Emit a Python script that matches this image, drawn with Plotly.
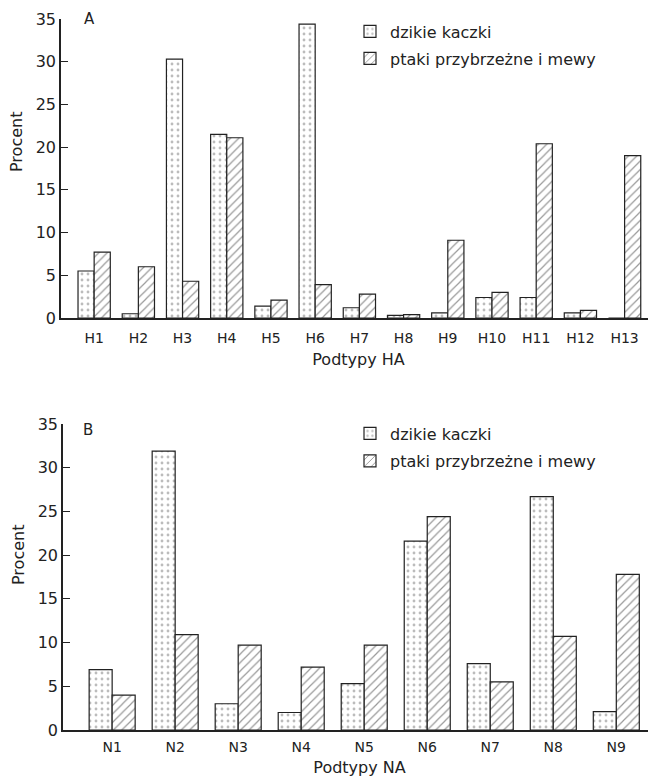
import plotly.graph_objects as go

ha_types = ["H1", "H2", "H3", "H4", "H5", "H6", "H7", "H8", "H9", "H10", "H11", "H12", "H13"]
ha_ducks = [5.5, 0.5, 30.3, 21.5, 1.4, 34.4, 1.2, 0.3, 0.6, 2.4, 2.4, 0.6, 0.0]
ha_shore = [7.7, 6.0, 4.3, 21.1, 2.1, 3.9, 2.8, 0.4, 9.1, 3.0, 20.4, 0.9, 19.0]

na_types = ["N1", "N2", "N3", "N4", "N5", "N6", "N7", "N8", "N9"]
na_ducks = [6.9, 31.9, 3.0, 2.0, 5.3, 21.6, 7.6, 26.7, 2.1]
na_shore = [4.0, 10.9, 9.7, 7.2, 9.7, 24.4, 5.5, 10.7, 17.8]

name_ducks = "dzikie kaczki"
name_shore = "ptaki przybrzeżne i mewy"
y_title = "Procent"
y_ticks = [0, 5, 10, 15, 20, 25, 30, 35]

INK = "#222222"
FONT = "DejaVu Sans"

dot_pattern = dict(shape=".", size=6, solidity=0.18, fgcolor="#7a7a7a", bgcolor="white", fillmode="overlay")
hatch_pattern = dict(shape="/", size=6, solidity=0.2, fgcolor="#333333", bgcolor="white", fillmode="overlay")

fig = go.Figure()

fig.add_trace(go.Bar(x=ha_types, y=ha_ducks, name=name_ducks, xaxis="x", yaxis="y",
                     marker=dict(color="white", pattern=dot_pattern, line=dict(color=INK, width=1.2)),
                     legend="legend", showlegend=True))
fig.add_trace(go.Bar(x=ha_types, y=ha_shore, name=name_shore, xaxis="x", yaxis="y",
                     marker=dict(color="white", pattern=hatch_pattern, line=dict(color=INK, width=1.2)),
                     legend="legend2", showlegend=True))
fig.add_trace(go.Bar(x=na_types, y=na_ducks, name=name_ducks, xaxis="x2", yaxis="y2",
                     marker=dict(color="white", pattern=dot_pattern, line=dict(color=INK, width=1.2)),
                     legend="legend3", showlegend=True))
fig.add_trace(go.Bar(x=na_types, y=na_shore, name=name_shore, xaxis="x2", yaxis="y2",
                     marker=dict(color="white", pattern=hatch_pattern, line=dict(color=INK, width=1.2)),
                     legend="legend4", showlegend=True))

# The page body has an 8px margin, so the figure is drawn 8px smaller and
# screen pixel positions are converted with that offset.
OFF = 8
W, H = 656 - OFF, 780 - OFF

def px_x(p):
    return (p - OFF) / W

def px_y(p):
    return 1 - (p - OFF) / H

axis_common = dict(showline=True, linecolor=INK, linewidth=1.5, showgrid=False, zeroline=False,
                   automargin=False)
xfont = dict(family=FONT, size=14, color=INK)
yfont = dict(family=FONT, size=16, color=INK)
tfont = dict(family=FONT, size=16, color=INK)
lfont = dict(family=FONT, size=16, color=INK)

def leg(y):
    return dict(x=px_x(350), y=px_y(y), xanchor="left", yanchor="middle",
                bgcolor="rgba(0,0,0,0)", font=lfont, itemwidth=30, visible=True)

def label(text, x, y, size=15, angle=0):
    return dict(text=text, x=px_x(x), y=px_y(y), xref="paper", yref="paper", showarrow=False,
                xanchor="center", yanchor="middle", textangle=angle,
                font=dict(family=FONT, size=size, color=INK))

fig.update_layout(
    width=W, height=H,
    margin=dict(l=0, r=0, t=0, b=0),
    paper_bgcolor="white", plot_bgcolor="white",
    barmode="group", bargap=0.27, bargroupgap=0.0,
    showlegend=True,
    font=dict(family=FONT, color=INK),
    xaxis=dict(axis_common, domain=[px_x(61), px_x(656)], anchor="y",
               range=[-0.75, 12.71], ticks="", tickfont=xfont, ticklabelstandoff=6,
               title=dict(text="Podtypy HA", font=tfont, standoff=9)),
    yaxis=dict(axis_common, domain=[px_y(318), px_y(19)], anchor="x",
               range=[0, 35], tickvals=y_ticks, ticks="inside", ticklen=7, tickcolor=INK,
               tickfont=yfont),
    xaxis2=dict(axis_common, domain=[px_x(63), px_x(656)], anchor="y2",
                range=[-0.78, 8.63], ticks="", tickfont=xfont, ticklabelstandoff=3,
                title=dict(text="Podtypy NA", font=tfont, standoff=8)),
    yaxis2=dict(axis_common, domain=[px_y(730), px_y(424)], anchor="x2",
                range=[0, 35], tickvals=y_ticks, ticks="inside", ticklen=7, tickcolor=INK,
                tickfont=yfont),
    legend=leg(31.5),
    legend2=leg(58.5),
    legend3=leg(433.5),
    legend4=leg(461),
    annotations=[
        label("A", 89, 19),
        label("B", 88, 430),
        label(y_title, 17, 142, size=16, angle=-90),
        label(y_title, 18, 555, size=16, angle=-90),
    ],
)

fig.write_html("out.html")
